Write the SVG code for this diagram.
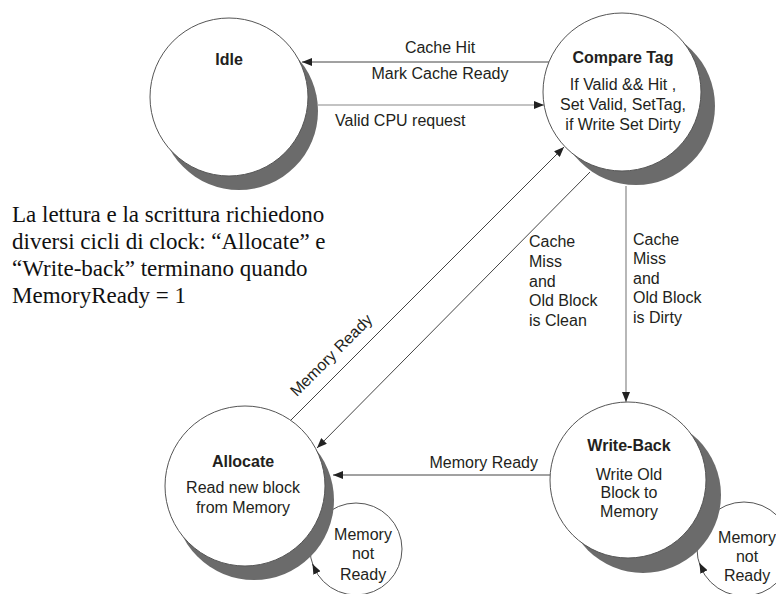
<svg xmlns="http://www.w3.org/2000/svg" width="776" height="594" viewBox="0 0 776 594">
  <style>
    .lbl { font-family: "Liberation Sans", Arial, sans-serif; font-size: 16px; fill: #231f20; }
    .body { font-family: "Liberation Sans", Arial, sans-serif; font-size: 16px; fill: #231f20; text-anchor: middle; }
    .title { font-family: "Liberation Sans", Arial, sans-serif; font-size: 16px; font-weight: bold; fill: #231f20; text-anchor: middle; }
    .note { font-family: "Liberation Serif", "Times New Roman", serif; font-size: 23px; fill: #111; }
    .state { fill: #fff; stroke: #555; stroke-width: 1; }
    .shadow { fill: #6b6b6b; }
    .loop { fill: #fff; stroke: #555; stroke-width: 1; }
    .edge { fill: none; stroke: #444; stroke-width: 1; }
    .edge-light { fill: none; stroke: #888; stroke-width: 1.2; }
  </style>
  <defs>
    <marker id="arrow" markerUnits="userSpaceOnUse" markerWidth="10" markerHeight="8" refX="10" refY="4" orient="auto">
      <path d="M0,0 L10,4 L0,8 z" fill="#222"/>
    </marker>
  </defs>
  <rect width="776" height="594" fill="#fff"/>

  <!-- explanatory note -->
  <g id="note">
    <text class="note" x="12" y="222">La lettura e la scrittura richiedono</text>
    <text class="note" x="12" y="249">diversi cicli di clock: “Allocate” e</text>
    <text class="note" x="12" y="276">“Write-back” terminano quando</text>
    <text class="note" x="12" y="303">MemoryReady = 1</text>
  </g>

  <!-- self-loop rings sit behind the states -->
  <g id="loop-allocate">
    <circle class="loop" cx="356" cy="549" r="46"/>
    <text class="lbl" text-anchor="middle" x="363" y="540">Memory</text>
    <text class="lbl" text-anchor="middle" x="363" y="559">not</text>
    <text class="lbl" text-anchor="middle" x="363" y="580">Ready</text>
  </g>
  <g id="loop-writeback">
    <circle class="loop" cx="744" cy="549" r="47"/>
    <text class="lbl" text-anchor="middle" x="747" y="543">Memory</text>
    <text class="lbl" text-anchor="middle" x="747" y="562">not</text>
    <text class="lbl" text-anchor="middle" x="747" y="581">Ready</text>
  </g>

  <!-- transitions -->
  <g id="connectors">
    <line class="edge" x1="551" y1="62" x2="302" y2="62" marker-end="url(#arrow)"/>
    <line class="edge-light" x1="318" y1="105" x2="544" y2="105" marker-end="url(#arrow)"/>
    <line class="edge" x1="290" y1="421" x2="564" y2="147" marker-end="url(#arrow)"/>
    <line class="edge" x1="590" y1="172" x2="317" y2="448" marker-end="url(#arrow)"/>
    <line class="edge-light" x1="626" y1="186" x2="626" y2="402" marker-end="url(#arrow)"/>
    <line class="edge" x1="550" y1="475" x2="333" y2="475" marker-end="url(#arrow)"/>
    <path class="edge" d="M316.5,572 L312.5,564" marker-end="url(#arrow)"/>
    <path class="edge" d="M703.5,571 L699.5,563" marker-end="url(#arrow)"/>

    <text class="lbl" text-anchor="middle" x="440" y="53">Cache Hit</text>
    <text class="lbl" text-anchor="middle" x="440" y="79">Mark Cache Ready</text>
    <text class="lbl" x="335" y="126">Valid CPU request</text>
    <text class="lbl" text-anchor="middle" transform="translate(335,359) rotate(-45)">Memory Ready</text>
    <text class="lbl" x="529" y="247">Cache</text>
    <text class="lbl" x="529" y="267">Miss</text>
    <text class="lbl" x="529" y="287">and</text>
    <text class="lbl" x="529" y="306">Old Block</text>
    <text class="lbl" x="529" y="326">is Clean</text>
    <text class="lbl" x="633" y="245">Cache</text>
    <text class="lbl" x="633" y="264">Miss</text>
    <text class="lbl" x="633" y="284">and</text>
    <text class="lbl" x="633" y="303">Old Block</text>
    <text class="lbl" x="633" y="323">is Dirty</text>
    <text class="lbl" text-anchor="end" x="538" y="468">Memory Ready</text>
  </g>

  <!-- states -->
  <g id="idle">
    <circle class="shadow" cx="239" cy="111" r="79"/>
    <circle class="state" cx="229" cy="97" r="79"/>
    <text class="title" x="229" y="65">Idle</text>
  </g>
  <g id="compare-tag">
    <circle class="shadow" cx="636" cy="106" r="79"/>
    <circle class="state" cx="622" cy="92" r="79"/>
    <text class="title" x="623" y="63">Compare Tag</text>
    <text class="body" x="623" y="90">If Valid &amp;&amp; Hit ,</text>
    <text class="body" x="623" y="110">Set Valid, SetTag,</text>
    <text class="body" x="623" y="130">if Write Set Dirty</text>
  </g>
  <g id="allocate">
    <circle class="shadow" cx="254" cy="500" r="80"/>
    <circle class="state" cx="245" cy="486" r="80"/>
    <text class="title" x="243" y="467">Allocate</text>
    <text class="body" x="243" y="493">Read new block</text>
    <text class="body" x="243" y="513">from Memory</text>
  </g>
  <g id="write-back">
    <circle class="shadow" cx="643" cy="495" r="78"/>
    <circle class="state" cx="628" cy="480" r="78"/>
    <text class="title" x="629" y="451">Write-Back</text>
    <text class="body" x="629" y="480">Write Old</text>
    <text class="body" x="629" y="498">Block to</text>
    <text class="body" x="629" y="517">Memory</text>
  </g>
</svg>
